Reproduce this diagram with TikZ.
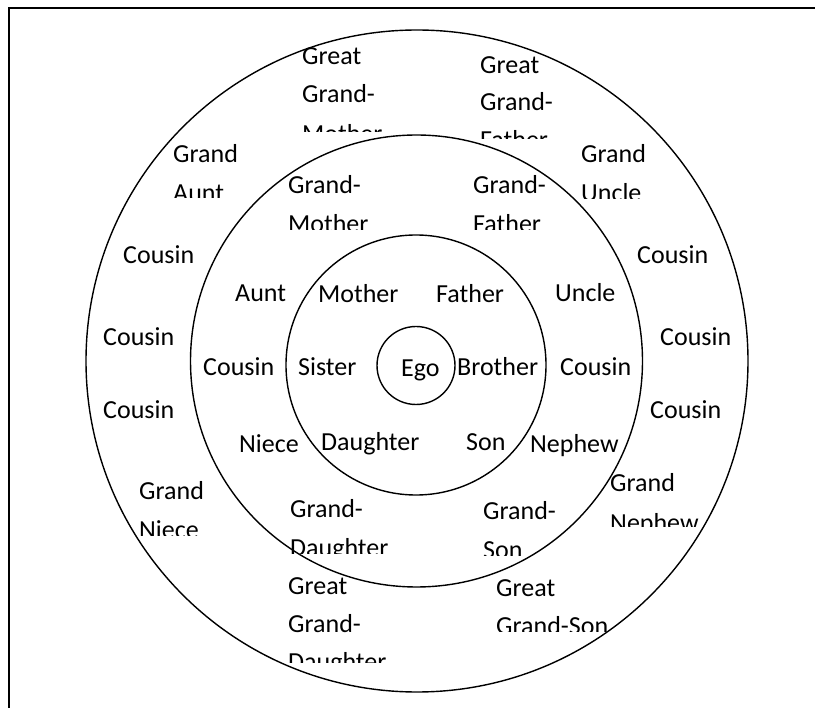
\documentclass[tikz,border=0pt]{standalone}
\usepackage{fontspec}
\setmainfont{Carlito}
\tikzset{
  lbl/.style={anchor=base west, inner sep=0pt, font=\fontsize{26}{37}\selectfont},
  ring/.style={draw, circle, line width=1.4pt, inner sep=0pt}
}
\newcommand\cliplabel[5]{%
  \begin{scope}
    \clip (#2-5,#3-40) rectangle (#2+220,#4);
    \node[lbl] (#1) at (#2,#3) {#5};
  \end{scope}}
\begin{document}
\begin{tikzpicture}[x=1pt,y=-1pt]
\useasboundingbox (0,0) rectangle (815,708);
% frame (only left and top edges visible)
\draw[line width=2pt] (9,708) -- (9,8) -- (815,8);
% rings
\node[ring, minimum size=662] (r4) at (417,361) {};
\node[ring, minimum size=452] (r3) at (416.5,361) {};
\node[ring, minimum size=260] (r2) at (416,365) {};
\node[ring, minimum size=78] (r1) at (416,365.5) {};
% centre
\node[lbl] (ego) at (401,377) {Ego};
% first ring
\node[lbl] (mother) at (318,303) {Mother};
\node[lbl] (father) at (436,303) {Father};
\node[lbl] (sister) at (298,376) {Sister};
\node[lbl] (brother) at (457,376) {Brother};
\node[lbl] (daughter) at (321,451) {Daughter};
\node[lbl] (son) at (466,451) {Son};
% second ring
\node[lbl] (gm1) at (288,194) {Grand-};
\cliplabel{gm2}{288}{233}{230}{Mother}
\node[lbl] (gf1) at (473,194) {Grand-};
\cliplabel{gf2}{473}{233}{230}{Father}
\node[lbl] (aunt) at (235,302) {Aunt};
\node[lbl] (uncle) at (555,302) {Uncle};
\node[lbl] (cousinL) at (203,376) {Cousin};
\node[lbl] (cousinR) at (560,376) {Cousin};
\node[lbl] (niece) at (239,453) {Niece};
\node[lbl] (nephew) at (530,453) {Nephew};
\node[lbl] (gd1) at (290,518) {Grand-};
\cliplabel{gd2}{290}{557}{554}{Daughter}
\node[lbl] (gs1) at (483,520) {Grand-};
\cliplabel{gs2}{483}{559}{556}{Son}
% third ring
\node[lbl] (ggm1) at (302,65) {Great};
\node[lbl] (ggm2) at (302,103) {Grand-};
\cliplabel{ggm3}{302}{143}{132}{Mother}
\node[lbl] (ggf1) at (480,74) {Great};
\node[lbl] (ggf2) at (480,111) {Grand-};
\cliplabel{ggf3}{480}{149}{139}{Father}
\node[lbl] (ga1) at (173,163) {Grand};
\cliplabel{ga2}{173}{202}{198}{Aunt}
\node[lbl] (gu1) at (581,163) {Grand};
\cliplabel{gu2}{581}{202}{199}{Uncle}
\node[lbl] (c1) at (123,264) {Cousin};
\node[lbl] (c2) at (103,346) {Cousin};
\node[lbl] (c3) at (103,419) {Cousin};
\node[lbl] (c4) at (637,264) {Cousin};
\node[lbl] (c5) at (660,346) {Cousin};
\node[lbl] (c6) at (650,419) {Cousin};
\node[lbl] (gn1) at (139,500) {Grand};
\cliplabel{gn2}{139}{539}{536}{Niece}
\node[lbl] (gne1) at (610,492) {Grand};
\cliplabel{gne2}{610}{532}{527}{Nephew}
\node[lbl] (ggd1) at (288,595) {Great};
\node[lbl] (ggd2) at (288,633) {Grand-};
\cliplabel{ggd3}{288}{671}{663}{Daughter}
\node[lbl] (ggs1) at (496,597) {Great};
\cliplabel{ggs2}{496}{635}{632}{Grand-Son}
\end{tikzpicture}
\end{document}
